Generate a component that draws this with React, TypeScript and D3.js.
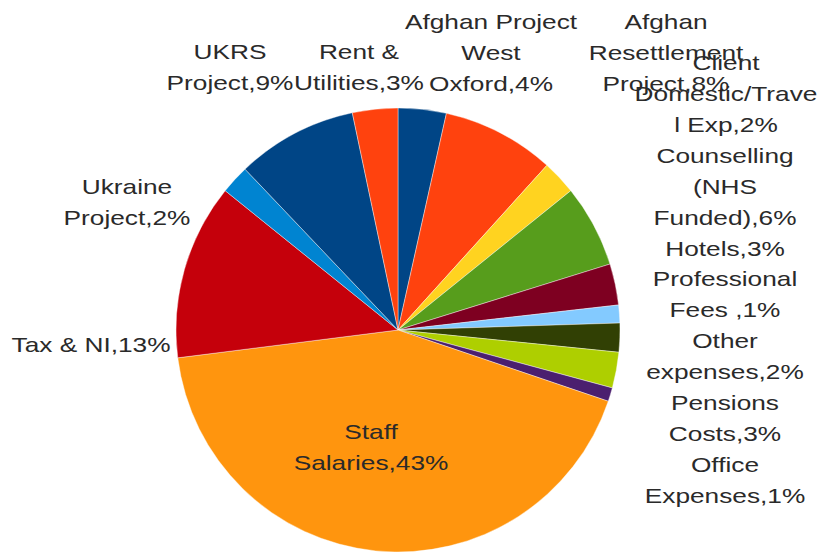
import React from "react";
import * as d3 from "d3";

const categories = [
  "Afghan Project West Oxford",
  "Afghan Resettlement Project",
  "Client Domestic/Travel Exp",
  "Counselling (NHS Funded)",
  "Hotels",
  "Professional Fees ",
  "Other expenses",
  "Pensions Costs",
  "Office Expenses",
  "Staff Salaries",
  "Tax & NI",
  "Ukraine Project",
  "UKRS Project",
  "Rent & Utilities",
];

const values = [3.5, 8.2, 2.5, 6.0, 3.0, 1.3, 2.1, 2.6, 1.0, 42.8, 12.8, 2.1, 8.8, 3.3];

const percentLabels = ["4%", "8%", "2%", "6%", "3%", "1%", "2%", "3%", "1%", "43%", "13%", "2%", "9%", "3%"];

const labelLines = [
  ["Afghan Project", "West", "Oxford,4%"],
  ["Afghan", "Resettlement", "Project,8%"],
  ["Client", "Domestic/Trave", "l Exp,2%"],
  ["Counselling", "(NHS", "Funded),6%"],
  ["Hotels,3%"],
  ["Professional", "Fees ,1%"],
  ["Other", "expenses,2%"],
  ["Pensions", "Costs,3%"],
  ["Office", "Expenses,1%"],
  ["Staff", "Salaries,43%"],
  ["Tax & NI,13%"],
  ["Ukraine", "Project,2%"],
  ["UKRS", "Project,9%"],
  ["Rent &", "Utilities,3%"],
];

const colors = [
  "#004586", "#ff420e", "#ffd320", "#579d1c", "#7e0021", "#83caff", "#314004",
  "#aecf00", "#4b1f6f", "#ff950e", "#c5000b", "#0084d1", "#004586", "#ff420e",
];

// layout: center of first line of each label
const labelAnchor: [number, number][] = [
  [491, 22], [666, 22], [726, 63], [725, 156], [725, 249], [725, 279], [725, 341],
  [725, 403], [725, 465], [371, 432], [91, 345], [127, 187], [230, 52], [359, 52],
];

const W = 821, H = 552;
const cx = 398, cy = 330, R = 222;
const lineH = 31;

export default function App() {
  const pie = d3.pie<number>().sort(null).value((d) => d)(values);
  const arc = d3.arc<d3.PieArcDatum<number>>().innerRadius(0).outerRadius(R);
  return (
    <svg width={W} height={H} style={{ position: "absolute", left: 0, top: 0, background: "#fff" }}>
      <g transform={`translate(${cx},${cy})`}>
        {pie.map((p, i) => (
          <path key={i} d={arc(p) || ""} fill={colors[i]} stroke="#fff" strokeWidth={0.4} />
        ))}
      </g>
      {labelLines.map((lines, i) => (
        <g key={i} transform={`translate(${labelAnchor[i][0]},${labelAnchor[i][1]}) scale(1.25,1)`}>
          {lines.map((t, j) => (
            <text
              key={j}
              x={0}
              y={j * lineH}
              dy="0.35em"
              textAnchor="middle"
              fontFamily="'Liberation Sans', Arial, sans-serif"
              fontSize={21}
              fill="#2a2a2a"
            >
              {t}
            </text>
          ))}
        </g>
      ))}
    </svg>
  );
}
